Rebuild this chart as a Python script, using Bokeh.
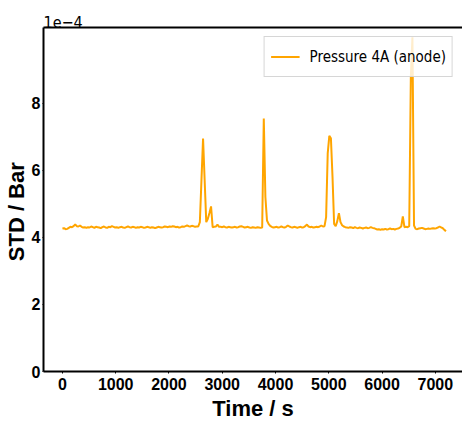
from bokeh.plotting import figure
from bokeh.models import LinearAxis, FixedTicker, Range1d
from bokeh.embed import file_html
from bokeh.resources import INLINE

# ---- data (STD in units of 1e-4 Bar) ----
time_s = list(range(0, 7201, 30))
std_1e4 = [
    4.26, 4.27, 4.24, 4.25, 4.28, 4.31, 4.30, 4.33, 4.38, 4.33,
    4.32, 4.35, 4.31, 4.29, 4.30, 4.28, 4.30, 4.29, 4.32, 4.30,
    4.28, 4.31, 4.30, 4.29, 4.27, 4.30, 4.32, 4.29, 4.28, 4.31,
    4.30, 4.33, 4.31, 4.29, 4.30, 4.28, 4.30, 4.31, 4.29, 4.28,
    4.30, 4.32, 4.30, 4.29, 4.31, 4.30, 4.28, 4.30, 4.29, 4.31,
    4.30, 4.28, 4.29, 4.31, 4.30, 4.28, 4.30, 4.29, 4.27, 4.29,
    4.31, 4.30, 4.29, 4.30, 4.32, 4.31, 4.30, 4.32, 4.31, 4.33,
    4.32, 4.30, 4.31, 4.29, 4.30, 4.32, 4.31, 4.33, 4.35, 4.33,
    4.32, 4.34, 4.33, 4.31, 4.32, 4.32, 4.45, 5.70, 6.94, 5.70,
    4.45, 4.55, 4.72, 4.92, 4.30, 4.31, 4.32, 4.38, 4.31, 4.31,
    4.30, 4.32, 4.30, 4.29, 4.31, 4.30, 4.29, 4.30, 4.31, 4.29,
    4.30, 4.32, 4.33, 4.31, 4.29, 4.30, 4.31, 4.29, 4.28, 4.30,
    4.29, 4.28, 4.30, 4.29, 4.28, 4.29, 7.54, 5.20, 4.50, 4.40,
    4.34, 4.31, 4.29, 4.30, 4.31, 4.29, 4.30, 4.32, 4.30, 4.29,
    4.31, 4.35, 4.32, 4.30, 4.29, 4.31, 4.30, 4.28, 4.30, 4.31,
    4.29, 4.30, 4.33, 4.38, 4.32, 4.30, 4.31, 4.29, 4.30, 4.31,
    4.30, 4.32, 4.35, 4.32, 4.33, 4.60, 6.50, 7.02, 6.95, 5.80,
    4.40, 4.33, 4.48, 4.72, 4.45, 4.36, 4.32, 4.30, 4.29, 4.28,
    4.30, 4.29, 4.27, 4.30, 4.28, 4.27, 4.29, 4.28, 4.26, 4.28,
    4.29, 4.27, 4.28, 4.30, 4.28, 4.27, 4.25, 4.23, 4.24, 4.22,
    4.24, 4.23, 4.25, 4.23, 4.24, 4.26, 4.24, 4.25, 4.23, 4.25,
    4.26, 4.28, 4.32, 4.62, 4.30, 4.31, 4.30, 4.33, 8.75, 9.96,
    4.35, 4.25, 4.24, 4.26, 4.27, 4.28, 4.26, 4.24, 4.25, 4.26,
    4.25, 4.26, 4.27, 4.26, 4.27, 4.29, 4.32, 4.29, 4.27, 4.22,
    4.18,
]
x_ticks = [0, 1000, 2000, 3000, 4000, 5000, 6000, 7000]
y_ticks = [0, 2, 4, 6, 8]
series_name = "Pressure 4A (anode)"

X0, X1 = -355, 7510
Y0, Y1 = 0, 10.25

p = figure(width=462, height=428, output_backend="svg", toolbar_location=None,
           x_range=Range1d(X0, X1), y_range=Range1d(Y0, Y1),
           min_border_left=41, min_border_right=0, min_border_top=27,
           min_border_bottom=57)
p.outline_line_color = None
p.xgrid.visible = False
p.ygrid.visible = False
p.background_fill_color = "white"
p.border_fill_color = "white"

p.title.text = "1e\u22124"
p.title.align = "left"
p.title.text_font = "DejaVu Sans Condensed"
p.title.text_font_style = "normal"
p.title.text_font_size = "16px"
p.title.text_color = "black"
p.title.standoff = 0
p.title.offset = 0

p.line(time_s, std_1e4, line_color="#FFA500", line_width=2, legend_label=series_name)

tick_font = "Liberation Sans"
for ax in (p.xaxis[0], p.yaxis[0]):
    ax.axis_line_width = 2
    ax.axis_line_color = "black"
    ax.major_tick_line_color = "black"
    ax.major_tick_in = 0
    ax.major_tick_out = 2
    ax.minor_tick_line_color = None
    ax.major_label_text_font = tick_font
    ax.major_label_text_font_style = "bold"
    ax.major_label_text_font_size = "16px"
    ax.major_label_text_color = "black"

p.xaxis[0].ticker = FixedTicker(ticks=x_ticks)
p.yaxis[0].ticker = FixedTicker(ticks=y_ticks)
p.xaxis[0].major_label_standoff = 4
p.yaxis[0].major_label_standoff = 2
p.yaxis[0].major_tick_out = 1

p.xaxis[0].axis_label = "Time / s"
p.xaxis[0].axis_label_text_font = tick_font
p.xaxis[0].axis_label_text_font_style = "bold"
p.xaxis[0].axis_label_text_font_size = "22px"
p.xaxis[0].axis_label_text_color = "black"
p.xaxis[0].axis_label_standoff = 3

p.yaxis[0].axis_label = "STD / Bar\u00a0\u00a0\u00a0\u00a0"
p.yaxis[0].axis_label_text_font = tick_font
p.yaxis[0].axis_label_text_font_style = "bold"
p.yaxis[0].axis_label_text_font_size = "22px"
p.yaxis[0].axis_label_text_color = "black"
p.yaxis[0].axis_label_standoff = 0

# top spine
top = LinearAxis(ticker=FixedTicker(ticks=[]), major_tick_line_color=None,
                 minor_tick_line_color=None, axis_line_width=2,
                 axis_line_color="black")
p.add_layout(top, "above")

lg = p.legend[0]
lg.location = "top_right"
lg.margin = 9
lg.padding = 6
lg.spacing = 0
lg.glyph_width = 29
lg.glyph_height = 27
lg.label_height = 27
lg.label_standoff = 10
lg.label_text_font = "DejaVu Sans Condensed"
lg.label_text_font_size = "15px"
lg.label_text_color = "black"
lg.border_line_color = "#cccccc"
lg.border_line_alpha = 0.8
lg.background_fill_alpha = 0.8

open("out.html", "w").write(file_html(p, INLINE))
